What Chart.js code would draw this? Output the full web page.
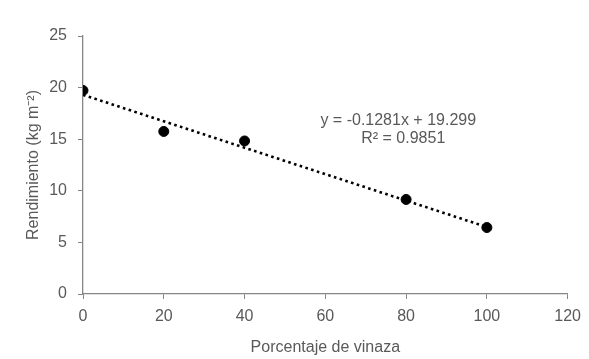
<!DOCTYPE html>
<html>
<head>
<meta charset="utf-8">
<script src="https://cdn.jsdelivr.net/npm/chart.js@4.4.1/dist/chart.umd.min.js"></script>
<style>
    html, body { margin: 0; padding: 0; background: #fff; }
    #wrap { width: 589px; height: 359px; position: relative; }
</style>
</head>
<body>
<div id="wrap"><canvas id="chart"></canvas></div>
<script>
// --- DATA ---
const vinaza = [0, 20, 40, 80, 100];
const rendimiento = [19.72, 15.75, 14.83, 9.16, 6.44];
const trendX = [0, 100];
const trendY = [19.299, 6.489];
const xTicks = [0, 20, 40, 60, 80, 100, 120];
const yTicks = [0, 5, 10, 15, 20, 25];
const equationLines = ['y = -0.1281x + 19.299', 'R\u00b2 = 0.9851'];

const FONT = '"Liberation Sans Narrow", "Arial Narrow", "Liberation Sans", Arial, sans-serif';
const TEXT = '#595959';
const AXIS = '#868686';

// equation label drawn next to the trendline
const equationPlugin = {
    id: 'equation',
    afterDatasetsDraw(chart) {
        const { ctx, scales } = chart;
        const x = scales.x.getPixelForValue(78.8);
        const y = scales.y.getPixelForValue(16.8);
        ctx.save();
        ctx.fillStyle = TEXT;
        ctx.font = '16px ' + FONT;
        ctx.textAlign = 'center';
        ctx.textBaseline = 'middle';
        ctx.fillText(equationLines[0], x - 3, y);
        ctx.fillText(equationLines[1], x + 2, y + 18);
        ctx.restore();
    }
};

new Chart(document.getElementById('chart'), {
    type: 'scatter',
    data: {
        datasets: [
            {
                label: 'Rendimiento',
                data: vinaza.map((v, i) => ({ x: v, y: rendimiento[i] })),
                backgroundColor: '#000',
                borderColor: '#000',
                pointRadius: 5,
                pointHoverRadius: 5
            },
            {
                label: 'Tendencia',
                type: 'line',
                data: trendX.map((v, i) => ({ x: v, y: trendY[i] })),
                borderColor: '#000',
                borderWidth: 2.6,
                borderDash: [2.6, 3.4],
                pointRadius: 0,
                fill: false
            }
        ]
    },
    options: {
        responsive: true,
        maintainAspectRatio: false,
        animation: false,
        layout: { padding: { top: 36, right: 21, bottom: 0, left: 24 } },
        plugins: { legend: { display: false }, tooltip: { enabled: false } },
        scales: {
            x: {
                type: 'linear',
                min: 0,
                max: 120,
                afterBuildTicks: (scale) => { scale.ticks = xTicks.map(v => ({ value: v })); },
                afterFit: (scale) => { scale.height = 65; },
                grid: { drawOnChartArea: false, drawTicks: true, tickLength: 5, color: AXIS },
                border: { display: true, color: AXIS, width: 1.3 },
                ticks: { color: TEXT, font: { family: FONT, size: 16 }, padding: 8 },
                title: {
                    display: true,
                    text: 'Porcentaje de vinaza',
                    color: TEXT,
                    font: { family: FONT, size: 16 },
                    padding: { top: 0, bottom: 2 }
                }
            },
            y: {
                min: 0,
                max: 25,
                afterBuildTicks: (scale) => { scale.ticks = yTicks.map(v => ({ value: v })); },
                afterFit: (scale) => { scale.width = 59; },
                grid: { drawOnChartArea: false, drawTicks: true, tickLength: 5, color: AXIS },
                border: { display: true, color: AXIS, width: 1.3 },
                ticks: { color: TEXT, font: { family: FONT, size: 16 }, padding: 11 },
                title: {
                    display: true,
                    text: 'Rendimiento (kg m\u207b\u00b2)',
                    color: TEXT,
                    font: { family: FONT, size: 16 },
                    padding: { top: 0, bottom: 0 }
                }
            }
        }
    },
    plugins: [equationPlugin]
});
</script>
</body>
</html>
